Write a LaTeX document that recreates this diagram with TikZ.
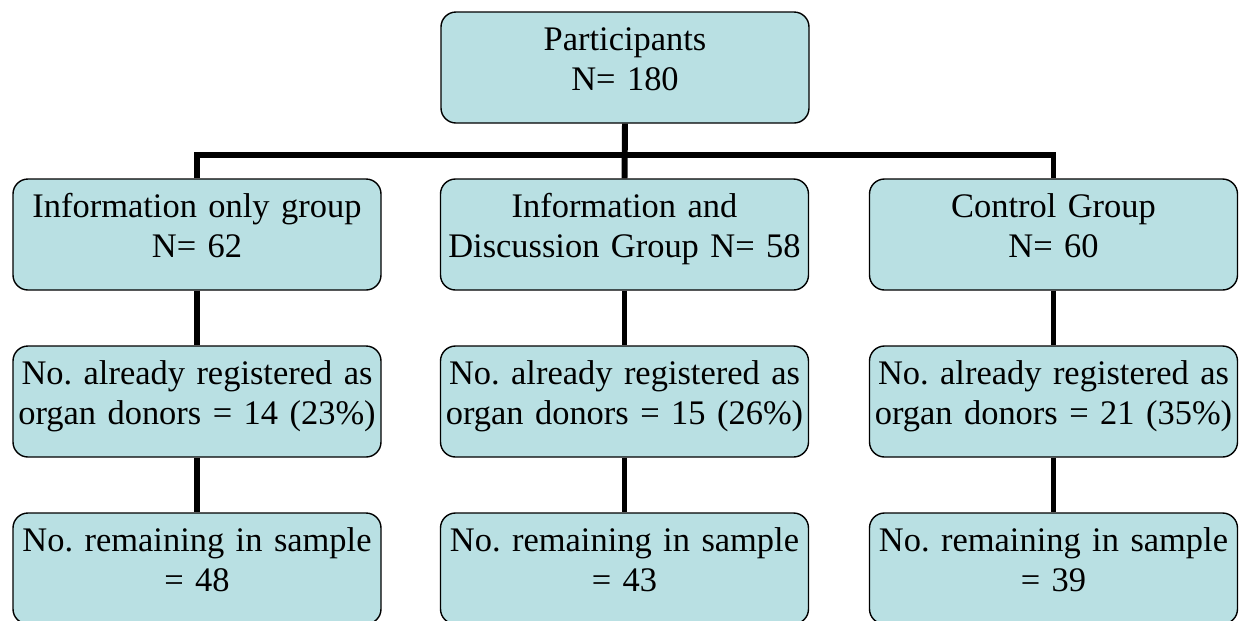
\documentclass[tikz,border=0pt]{standalone}
\usepackage{fontspec}
\setmainfont{Liberation Serif}
\definecolor{boxfill}{RGB}{185,224,227}

\begin{document}
\begin{tikzpicture}[font=\fontsize{19.6}{23}\selectfont\frenchspacing,
    box/.style={draw, fill=boxfill, line width=.8pt, rounded corners=.3cm,
      minimum width=7.36cm, minimum height=2.22cm, text width=7.2cm,
      align=center, inner xsep=.08cm, inner ysep=.1cm,
      text height=.5cm, text depth=1.2cm},
    link/.style={line width=3.4pt}]
      \useasboundingbox (0,0) rectangle (24.9,-12.4);
      \node[box] (part) at (12.5,-1.35) {Participants\\N= 180};
      \node[box] (info) at (3.94,-4.69) {Information only group\\N= 62};
      \node[box] (disc) at (12.49,-4.69) {Information and\\Discussion Group N= 58};
      \node[box] (ctrl) at (21.07,-4.69) {Control Group\\N= 60};
      \node[box] (inforeg) at (3.94,-8.03) {No. already registered as\\organ donors = 14 (23\%)};
      \node[box] (discreg) at (12.49,-8.03) {No. already registered as\\organ donors = 15 (26\%)};
      \node[box] (ctrlreg) at (21.07,-8.03) {No. already registered as\\organ donors = 21 (35\%)};
      \node[box] (inforem) at (3.94,-11.37) {No. remaining in sample\\= 48};
      \node[box] (discrem) at (12.49,-11.37) {No. remaining in sample\\= 43};
      \node[box] (ctrlrem) at (21.07,-11.37) {No. remaining in sample\\= 39};
      \coordinate (bar) at (12.5,-3.1);
      \draw[link] (part.south) -- (disc.north);
      \draw[link] (info.north) -- (info.north |- bar) -- (ctrl.north |- bar) -- (ctrl.north);
      \foreach \g in {info,disc,ctrl} {
        \draw[link] (\g.south) -- (\g reg.north);
        \draw[link] (\g reg.south) -- (\g rem.north);
      }
    \end{tikzpicture}
\end{document}
